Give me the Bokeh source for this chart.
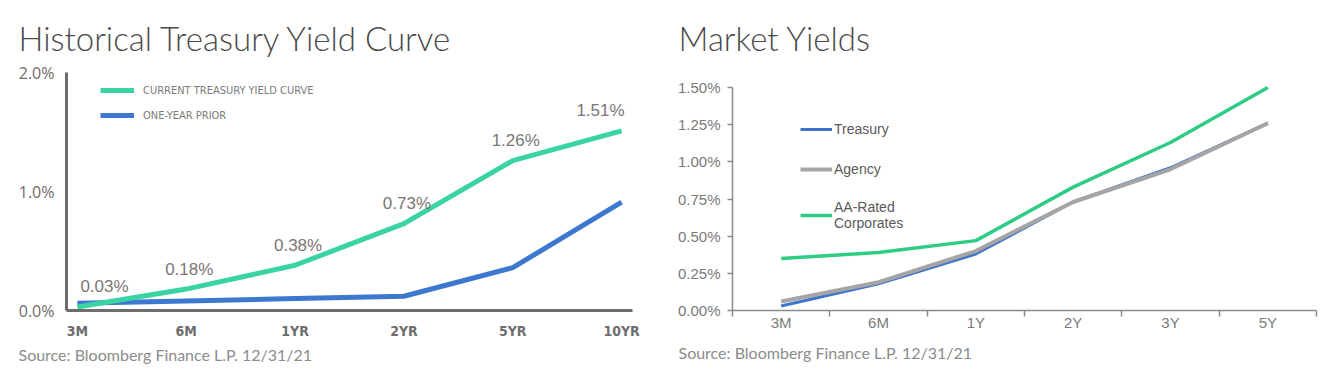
from bokeh.plotting import figure
from bokeh.layouts import row
from bokeh.models import (Range1d, FixedTicker, PrintfTickFormatter, Title, Legend, LegendItem,
                          ColumnDataSource)
from bokeh.core.properties import value
from bokeh.embed import file_html
from bokeh.resources import INLINE

# ---------------- data ----------------
hist_tenors = ["3M", "6M", "1YR", "2YR", "5YR", "10YR"]
hist_current = [0.03, 0.18, 0.38, 0.73, 1.26, 1.51]
hist_prior = [0.06, 0.08, 0.10, 0.12, 0.36, 0.91]
hist_yticks = [0.0, 1.0, 2.0]

mkt_tenors = ["3M", "6M", "1Y", "2Y", "3Y", "5Y"]
mkt_treasury = [0.03, 0.18, 0.38, 0.73, 0.96, 1.26]
mkt_agency = [0.06, 0.19, 0.40, 0.73, 0.95, 1.26]
mkt_corporates = [0.35, 0.39, 0.47, 0.83, 1.13, 1.50]
mkt_yticks = [0.0, 0.25, 0.50, 0.75, 1.00, 1.25, 1.50]

source_text = "Source: Bloomberg Finance L.P. 12/31/21"

TITLE_FONT = "Lato Light, Lato"
SRC_FONT = "Lato"
ARIAL = "Liberation Sans"
NARROW = "Liberation Sans Narrow, DejaVu Sans Condensed"

BORDER_TOP = 72
BORDER_BOTTOM = 67
TITLE_STANDOFF = 30


def style_title(t, offset):
    t.text_font = TITLE_FONT
    t.text_font_size = "33px"
    t.text_font_style = "normal"
    t.text_color = "#4a4a4a"
    t.align = "left"
    t.offset = offset
    t.standoff = TITLE_STANDOFF


# ---------------- left chart ----------------
p1 = figure(width=660, height=377, x_range=Range1d(-0.1, 5.1), y_range=Range1d(0, 2.0),
            output_backend="svg", toolbar_location=None,
            min_border_left=66, min_border_right=28,
            min_border_top=BORDER_TOP, min_border_bottom=BORDER_BOTTOM)
p1.outline_line_color = None
p1.grid.visible = False
p1.title.text = "Historical Treasury Yield Curve"
style_title(p1.title, -48)

hx = list(range(len(hist_tenors)))
r_prior = p1.line(hx, hist_prior, line_color="#3c78d0", line_width=5)
r_cur = p1.line(hx, hist_current, line_color="#3ad4a4", line_width=5)

lbl_text = [f"{v:.2f}%" for v in hist_current]
lbl_align = ["left"] + ["center"] * (len(hist_current) - 2) + ["right"]
lbl_src = ColumnDataSource(dict(x=hx, y=hist_current, t=lbl_text, a=lbl_align))
p1.text(x="x", y="y", text="t", source=lbl_src, text_align="a", text_baseline="middle",
        x_offset=3, y_offset=-20, text_font=value(ARIAL), text_font_size="17px",
        text_color="#7b7575")

p1.yaxis.ticker = FixedTicker(ticks=hist_yticks)
p1.yaxis.formatter = PrintfTickFormatter(format="%.1f%%")
p1.xaxis.ticker = FixedTicker(ticks=hx)
p1.xaxis.major_label_overrides = {i: t for i, t in enumerate(hist_tenors)}
for ax in (p1.xaxis[0], p1.yaxis[0]):
    ax.axis_line_color = "#6d6d6d"
    ax.axis_line_width = 3
    ax.major_tick_line_color = None
    ax.major_tick_out = 0
    ax.major_tick_in = 0
    ax.minor_tick_line_color = None
p1.yaxis.major_label_text_font = "Open Sans"
p1.yaxis.major_label_text_font_size = "16px"
p1.yaxis.major_label_text_color = "#6e6a6a"
p1.yaxis.major_label_standoff = 12
p1.xaxis.major_label_text_font = NARROW
p1.xaxis.major_label_text_font_size = "14px"
p1.xaxis.major_label_text_font_style = "bold"
p1.xaxis.major_label_text_color = "#6d6d6d"
p1.xaxis.major_label_standoff = 12

leg1 = Legend(items=[LegendItem(label="CURRENT TREASURY YIELD CURVE", renderers=[r_cur]),
                     LegendItem(label="ONE-YEAR PRIOR", renderers=[r_prior])],
              location=(34, 185))
leg1.glyph_width = 34
leg1.glyph_height = 20
leg1.spacing = 5
leg1.padding = 0
leg1.margin = 0
leg1.label_standoff = 9
leg1.border_line_color = None
leg1.background_fill_alpha = 0
leg1.label_text_font = NARROW
leg1.label_text_font_size = "11px"
leg1.label_text_color = "#7a7a7a"
p1.add_layout(leg1)

src1 = Title(text=source_text, align="left", offset=-48, text_font=SRC_FONT,
             text_font_size="16px", text_font_style="normal", text_color="#8c8c8c", standoff=2)
p1.add_layout(src1, "below")

# ---------------- right chart ----------------
# frame shares top/bottom borders with the left chart (row aligns frames);
# the y range is widened at the top so that 1.5 lands where the reference has it.
p2 = figure(width=679, height=377, x_range=Range1d(0, 6), y_range=Range1d(0, 1.601),
            output_backend="svg", toolbar_location=None,
            min_border_left=72, min_border_right=23,
            min_border_top=BORDER_TOP, min_border_bottom=BORDER_BOTTOM)
p2.outline_line_color = None
p2.grid.visible = False
p2.title.text = "Market Yields"
style_title(p2.title, -54)

mx = [i + 0.5 for i in range(len(mkt_tenors))]
r_t = p2.line(mx, mkt_treasury, line_color="#3f74cc", line_width=3)
r_a = p2.line(mx, mkt_agency, line_color="#a5a5a5", line_width=4)
r_c = p2.line(mx, mkt_corporates, line_color="#2ecc85", line_width=3.5)

p2.yaxis.ticker = FixedTicker(ticks=mkt_yticks)
p2.yaxis.formatter = PrintfTickFormatter(format="%.2f%%")
p2.yaxis.bounds = (mkt_yticks[0], mkt_yticks[-1])
p2.yaxis.major_tick_out = 5
p2.yaxis.major_tick_in = 0
p2.yaxis.minor_tick_line_color = None
p2.xaxis.ticker = FixedTicker(ticks=mx, minor_ticks=list(range(len(mkt_tenors) + 1)))
p2.xaxis.major_label_overrides = {c: t for c, t in zip(mx, mkt_tenors)}
p2.xaxis.major_tick_line_color = None
p2.xaxis.major_tick_out = 0
p2.xaxis.major_tick_in = 0
p2.xaxis.minor_tick_out = 6
p2.xaxis.minor_tick_in = 0
for ax in (p2.xaxis[0], p2.yaxis[0]):
    ax.axis_line_color = "#8a8a8a"
    ax.axis_line_width = 1.5
    ax.major_label_text_font = ARIAL
    ax.major_label_text_font_size = "15px"
    ax.major_label_text_color = "#7a7a7a"
p2.xaxis.minor_tick_line_color = "#8a8a8a"
p2.xaxis.minor_tick_line_width = 1.5
p2.yaxis.major_tick_line_color = "#8a8a8a"
p2.yaxis.major_tick_line_width = 1.5
p2.yaxis.major_label_standoff = 7
p2.xaxis.major_label_standoff = -3

leg2 = Legend(items=[LegendItem(label="Treasury", renderers=[r_t]),
                     LegendItem(label="Agency", renderers=[r_a]),
                     LegendItem(label="AA-Rated\nCorporates", renderers=[r_c])],
              location=(68, 79))
leg2.glyph_width = 32
leg2.glyph_height = 20
leg2.spacing = 20
leg2.padding = 0
leg2.margin = 0
leg2.label_standoff = 2
leg2.border_line_color = None
leg2.background_fill_alpha = 0
leg2.label_text_font = ARIAL
leg2.label_text_font_size = "14px"
leg2.label_text_color = "#595959"
p2.add_layout(leg2)

src2 = Title(text=source_text, align="left", offset=-54, text_font=SRC_FONT,
             text_font_size="16px", text_font_style="normal", text_color="#8c8c8c", standoff=15)
p2.add_layout(src2, "below")

layout = row(p1, p2)
open("out.html", "w").write(file_html(layout, INLINE))
